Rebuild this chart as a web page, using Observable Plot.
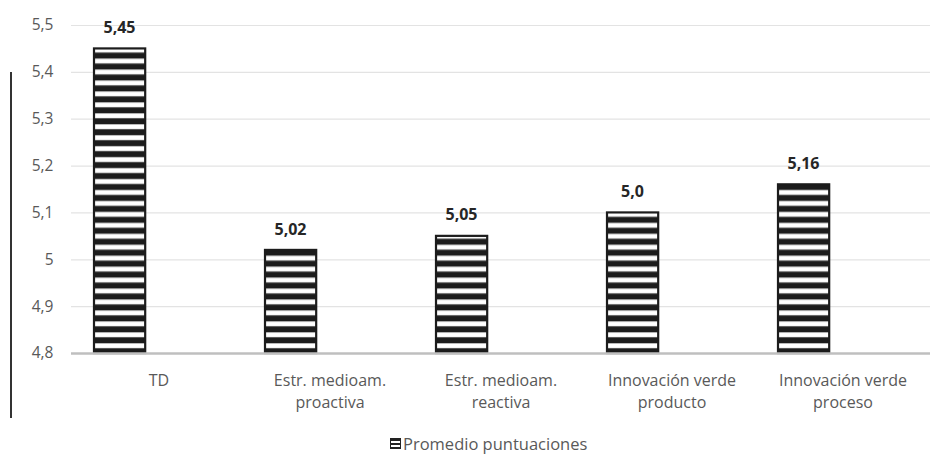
<!DOCTYPE html>
<html>
<head>
<meta charset="utf-8">
<script src="https://cdn.jsdelivr.net/npm/d3@7"></script>
<script src="https://cdn.jsdelivr.net/npm/@observablehq/plot@0.6"></script>
<style>
  body { margin: 0; background: #fff; font-family: "Open Sans", sans-serif; }
  #wrap { position: relative; width: 945px; height: 456px; }
  #vline { position: absolute; left: 10px; top: 72px; width: 1.5px; height: 346px; background: #333; }
  #legend { position: absolute; left: 0; top: 425px; width: 945px; height: 31px; }
  #legend .item { position: absolute; left: 390px; top: 7px; display: flex; align-items: center; font-size: 16.5px; color: #595959; }
  #legend .sw { width: 11px; height: 11px; margin-right: 2px; border: 1px solid #222; box-sizing: border-box;
    background: repeating-linear-gradient(to bottom, #222 0 2px, #fff 2px 4px); }
</style>
</head>
<body>
<div id="wrap">
  <div id="chart"></div>
  <div id="vline"></div>
  <div id="legend"><div class="item"><span class="sw"></span><span>Promedio puntuaciones</span></div></div>
</div>
<script>
const categories = ["TD", "Estr. medioam.\nproactiva", "Estr. medioam.\nreactiva", "Innovación verde\nproducto", "Innovación verde\nproceso"];
const values = [5.45, 5.02, 5.05, 5.10, 5.16];
const valueLabels = ["5,45", "5,02", "5,05", "5,0", "5,16"];
const yTicks = [4.8, 4.9, 5.0, 5.1, 5.2, 5.3, 5.4, 5.5];
const yTickLabels = ["4,8", "4,9", "5", "5,1", "5,2", "5,3", "5,4", "5,5"];

const data = categories.map((c, i) => ({cat: c, value: values[i], label: valueLabels[i]}));
const tickLabel = new Map(yTicks.map((t, i) => [t, yTickLabels[i]]));

const chart = Plot.plot({
  width: 945,
  height: 425,
  marginTop: 25,
  marginBottom: 72,
  marginLeft: 71,
  marginRight: 15,
  style: {fontFamily: "'Open Sans', sans-serif", fontSize: "16px", color: "#595959", background: "#fff"},
  x: {domain: categories, padding: 0},
  y: {domain: [4.8, 5.5]},
  marks: [
    Plot.ruleY(yTicks.slice(1), {stroke: "#e3e3e3", strokeWidth: 1.2}),
    Plot.barY(data, {x: "cat", y1: 4.8, y2: "value", fill: "url(#stripes)", stroke: "#1c1c1c", strokeWidth: 2.2, insetLeft: 21, insetRight: 98.8}),
    Plot.ruleY([4.8], {stroke: "#bfbfbf", strokeWidth: 2.5}),
    Plot.text(data, {x: "cat", y: "value", text: "label", dx: -39.5, dy: -21, fontWeight: "bold", fontSize: 16, fill: "#262626"}),
    Plot.axisY({ticks: yTicks, tickFormat: d => tickLabel.get(Math.round(d * 10) / 10), tickSize: 0, tickPadding: 18, fontSize: 15.5, fill: "#595959", label: null}),
    Plot.axisX({tickSize: 0, tickPadding: 16, fontSize: 16, lineHeight: 1.42, fill: "#595959", label: null})
  ]
});

// horizontal stripe pattern used as bar fill
const ns = "http://www.w3.org/2000/svg";
const defs = document.createElementNS(ns, "defs");
const pat = document.createElementNS(ns, "pattern");
pat.setAttribute("id", "stripes");
pat.setAttribute("patternUnits", "userSpaceOnUse");
pat.setAttribute("x", "0");
pat.setAttribute("y", "343");
pat.setAttribute("width", "20");
pat.setAttribute("height", "10.95");
const mk = (y, h, f) => { const r = document.createElementNS(ns, "rect"); r.setAttribute("x", 0); r.setAttribute("y", y); r.setAttribute("width", 20); r.setAttribute("height", h); r.setAttribute("fill", f); pat.appendChild(r); };
mk(0, 10.95, "#1c1c1c");
mk(0, 5.5, "#8a8a8a");
mk(0.6, 4.3, "#ffffff");
defs.appendChild(pat);
chart.insertBefore(defs, chart.firstChild);

document.getElementById("chart").appendChild(chart);
</script>
</body>
</html>
